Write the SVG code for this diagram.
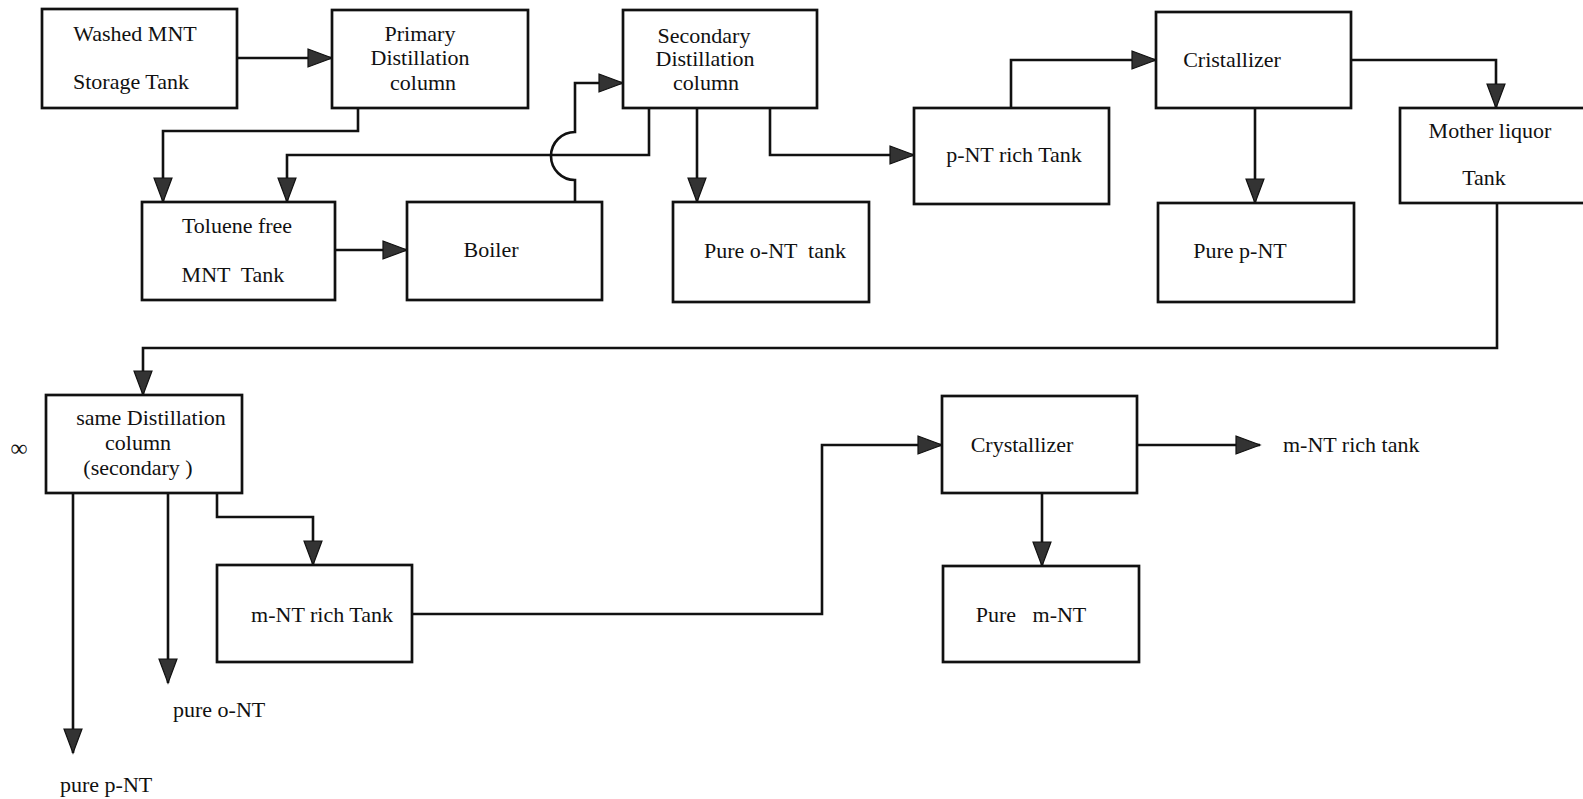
<svg xmlns="http://www.w3.org/2000/svg" width="1583" height="799" viewBox="0 0 1583 799">
<defs>
<style>
.box{fill:#fff;stroke:#111;stroke-width:2.7}
.ca{fill:none;stroke:#111;stroke-width:2.6;marker-end:url(#ah)}
text{font-family:"Liberation Serif","Times New Roman",serif;font-size:22px;fill:#111;white-space:pre}
.m{text-anchor:middle}
</style>
<marker id="ah" markerUnits="userSpaceOnUse" markerWidth="26" markerHeight="20" refX="24" refY="9" orient="auto" overflow="visible">
<path d="M0,0 L24,9 L0,18 Z" fill="#333" stroke="#111" stroke-width="1.2"/>
</marker>
</defs>
<rect width="1583" height="799" fill="#fff"/>
<g id="connectors">
<path class="ca" d="M237,58 H332"/>
<path class="ca" d="M358,108 V131 H163 V202"/>
<path class="ca" d="M649,108 V155 H287 V202"/>
<path class="ca" d="M575,202 V180 A24,24 0 0 1 575,132 V83 H623"/>
<path class="ca" d="M335,250 H407"/>
<path class="ca" d="M697,108 V202"/>
<path class="ca" d="M770,108 V155 H914"/>
<path class="ca" d="M1011,108 V60 H1156"/>
<path class="ca" d="M1255,108 V203"/>
<path class="ca" d="M1351,60 H1496 V108"/>
<path class="ca" d="M1497,203 V348 H143 V395"/>
<path class="ca" d="M73,493 V753"/>
<path class="ca" d="M168,493 V683"/>
<path class="ca" d="M217,493 V517 H313 V565"/>
<path class="ca" d="M412,614 H822 V445 H942"/>
<path class="ca" d="M1137,445 H1260"/>
<path class="ca" d="M1042,493 V566"/>
</g>
<g id="washed"><rect class="box" x="42" y="9" width="195" height="99"/><text class="m" x="135" y="41">Washed MNT</text><text class="m" x="131" y="89">Storage Tank</text></g>
<g id="primary"><rect class="box" x="332" y="10" width="196" height="98"/><text class="m" x="420" y="41">Primary</text><text class="m" x="420" y="65">Distillation</text><text class="m" x="423" y="90">column</text></g>
<g id="secondary"><rect class="box" x="623" y="10" width="194" height="98"/><text class="m" x="704" y="43">Secondary</text><text class="m" x="705" y="66">Distillation</text><text class="m" x="706" y="90">column</text></g>
<g id="pnt-rich"><rect class="box" x="914" y="108" width="195" height="96"/><text class="m" x="1014" y="162">p-NT rich Tank</text></g>
<g id="cristallizer"><rect class="box" x="1156" y="12" width="195" height="96"/><text class="m" x="1232" y="67">Cristallizer</text></g>
<g id="mother"><rect class="box" x="1400" y="108" width="195" height="95"/><text class="m" x="1490" y="138">Mother liquor</text><text class="m" x="1484" y="185">Tank</text></g>
<g id="toluene"><rect class="box" x="142" y="202" width="193" height="98"/><text class="m" x="237" y="233">Toluene free</text><text class="m" x="233" y="282">MNT  Tank</text></g>
<g id="boiler"><rect class="box" x="407" y="202" width="195" height="98"/><text class="m" x="491" y="257">Boiler</text></g>
<g id="pure-ont-tank"><rect class="box" x="673" y="202" width="196" height="100"/><text class="m" x="775" y="258">Pure o-NT  tank</text></g>
<g id="pure-pnt"><rect class="box" x="1158" y="203" width="196" height="99"/><text class="m" x="1240" y="258">Pure p-NT</text></g>
<g id="same-dist"><rect class="box" x="46" y="395" width="196" height="98"/><text class="m" x="151" y="425">same Distillation</text><text class="m" x="138" y="450">column</text><text class="m" x="138" y="475">(secondary )</text></g>
<g id="mnt-rich"><rect class="box" x="217" y="565" width="195" height="97"/><text class="m" x="322" y="622">m-NT rich Tank</text></g>
<g id="crystallizer"><rect class="box" x="942" y="396" width="195" height="97"/><text class="m" x="1022" y="452">Crystallizer</text></g>
<g id="pure-mnt"><rect class="box" x="943" y="566" width="196" height="96"/><text class="m" x="1031" y="622">Pure   m-NT</text></g>
<g id="outputs">
<text x="1283" y="452">m-NT rich tank</text>
<text x="173" y="717">pure o-NT</text>
<text x="60" y="792">pure p-NT</text>
<text class="m" x="19" y="456" style="font-size:24px">∞</text>
</g>
</svg>
